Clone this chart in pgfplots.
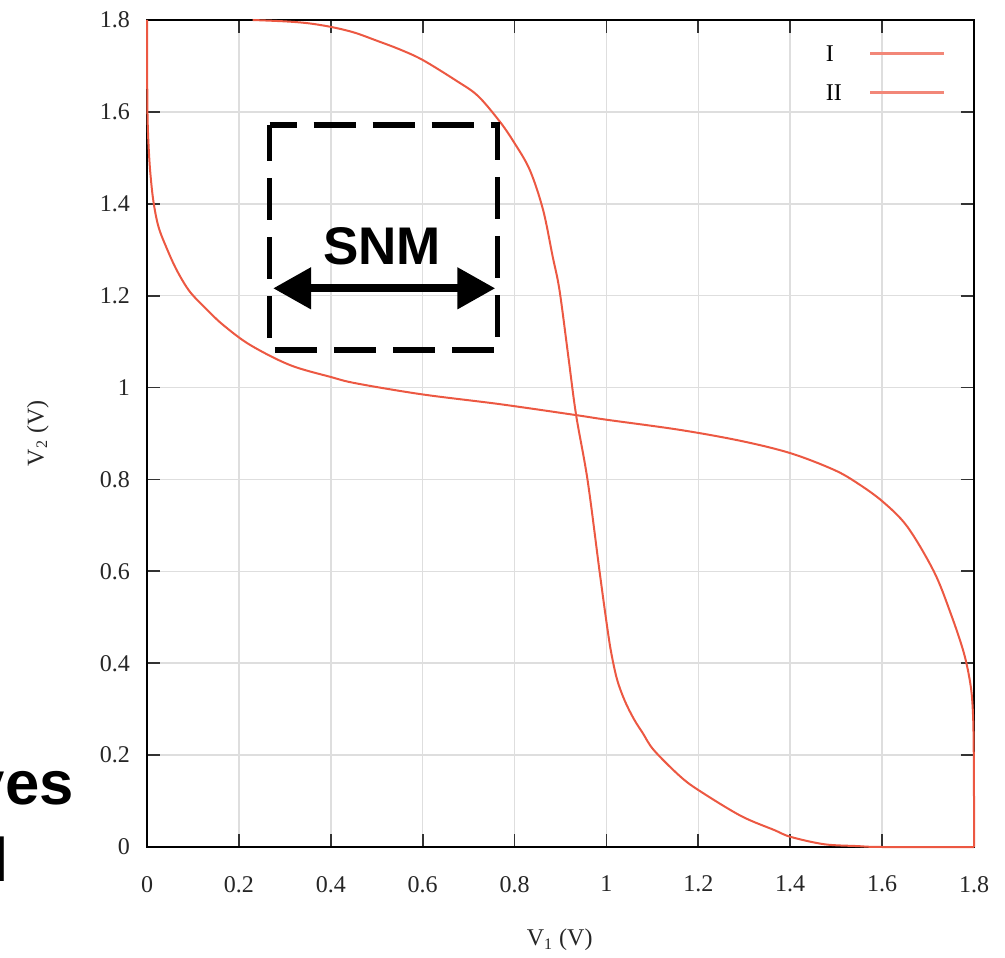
\documentclass[border=0pt]{standalone}
\usepackage{fontspec}
\setmainfont{Liberation Serif}
\newfontfamily\arialfont{Liberation Sans}
\usepackage{pgfplots}
\pgfplotsset{compat=1.18}
\usetikzlibrary{arrows.meta}
\definecolor{curvered}{RGB}{236,88,66}
\definecolor{legendred}{RGB}{242,135,120}

\pgfplotstableread{
x y
0 1.8
0.0003 1.7
0.001 1.6
0.003 1.535
0.007 1.47
0.014 1.405
0.025 1.35
0.043 1.303
0.065 1.255
0.093 1.209
0.13 1.170
0.166 1.136
0.224 1.093
0.311 1.049
0.4 1.023
0.456 1.009
0.6 0.985
0.767 0.964
0.934 0.940
1.0 0.930
1.159 0.908
1.292 0.884
1.401 0.857
1.495 0.821
1.546 0.792
1.601 0.752
1.655 0.697
1.713 0.599
1.749 0.509
1.778 0.422
1.793 0.349
1.798 0.284
1.7995 0.2
1.8 0.1
1.8 0
}\curveI

\pgfplotstableread{
x y
0.23 1.8
0.3 1.797
0.35 1.793
0.4 1.785
0.45 1.773
0.5 1.755
0.55 1.736
0.6 1.713
0.673 1.668
0.72 1.635
0.767 1.580
0.798 1.535
0.833 1.474
0.862 1.387
0.883 1.285
0.894 1.234
0.902 1.183
0.918 1.06
0.934 0.940
0.959 0.798
0.985 0.600
1.0 0.49
1.01 0.425
1.023 0.365
1.04 0.318
1.06 0.278
1.079 0.248
1.103 0.211
1.159 0.155
1.2 0.124
1.292 0.068
1.365 0.037
1.401 0.022
1.474 0.006
1.546 0.002
1.6 0
1.8 0
}\curveII

\begin{document}
\begin{tikzpicture}[x=1pt,y=1pt]
\useasboundingbox (0,0) rectangle (502.5,478.5);
\begin{axis}[
  at={(73.5pt,55pt)}, anchor=south west,
  width=413.5pt, height=413.5pt, scale only axis,
  xmin=0, xmax=1.8, ymin=0, ymax=1.8,
  xtick={0,0.2,0.4,0.6,0.8,1,1.2,1.4,1.6,1.8},
  ytick={0,0.2,0.4,0.6,0.8,1,1.2,1.4,1.6,1.8},
  grid=major,
  major grid style={color=black!13, line width=0.75pt},
  axis line style={line width=1pt, black},
  tick style={line width=0.9pt, color=black!80},
  major tick length=6.5pt,
  tick align=inside,
  /pgf/number format/assume math mode=true,
  ticklabel style={font=\fontsize{12}{14}\selectfont, color=black!85},
  xticklabel style={yshift=-11pt},
  yticklabel style={xshift=-5pt},
  xlabel={V\textsubscript{1} (V)},
  ylabel={V\textsubscript{2} (V)},
  label style={font=\fontsize{12}{14}\selectfont, color=black!85},
  xlabel style={at={(axis description cs:0.499,-0.1125)}, anchor=center},
  ylabel style={at={(axis description cs:-0.132,0.5)}, anchor=center, rotate=0},
  clip=false,
  legend plot pos=right,
  legend cell align=left,
  legend image code/.code={\draw[legendred, line width=1.5pt] (0pt,0pt) -- (37pt,0pt);},
  legend style={draw=none, fill=none, inner sep=0pt, outer sep=0pt,
    at={(axis description cs:0.966,0.9746)}, anchor=north east,
    font=\fontsize{12}{14}\selectfont, row sep=7.5pt, column sep=11.5pt,
    nodes={inner sep=2pt, text height=8pt, text depth=0pt}},
]
\addplot[curvered, line width=1pt, smooth, tension=0.55] table {\curveI};
\addlegendentry{I}
\addplot[curvered, line width=1pt, smooth, tension=0.55] table {\curveII};
\addlegendentry{II}

\draw[line width=2.8pt, dash pattern=on 21pt off 8.5pt, dash phase=7.5pt]
  (axis cs:0.267,1.572) -- (axis cs:0.763,1.572) -- (axis cs:0.763,1.082)
  -- (axis cs:0.267,1.082) -- cycle;
\draw[line width=4pt, {Triangle[length=19pt,width=20pt]}-{Triangle[length=19pt,width=20pt]}]
  (axis cs:0.2745,1.216) -- (axis cs:0.758,1.216);
\node[font=\arialfont\bfseries\fontsize{26.5}{30}\selectfont, inner sep=0pt]
  at (axis cs:0.512,1.308) {SNM};
\end{axis}
\node[anchor=base east, inner sep=0pt, font=\arialfont\bfseries\fontsize{30.8}{36}\selectfont] at (37,76) {Curves};
\node[anchor=base east, inner sep=0pt, font=\arialfont\bfseries\fontsize{30.8}{36}\selectfont] at (4.5,37.5) {l};
\end{tikzpicture}
\end{document}
